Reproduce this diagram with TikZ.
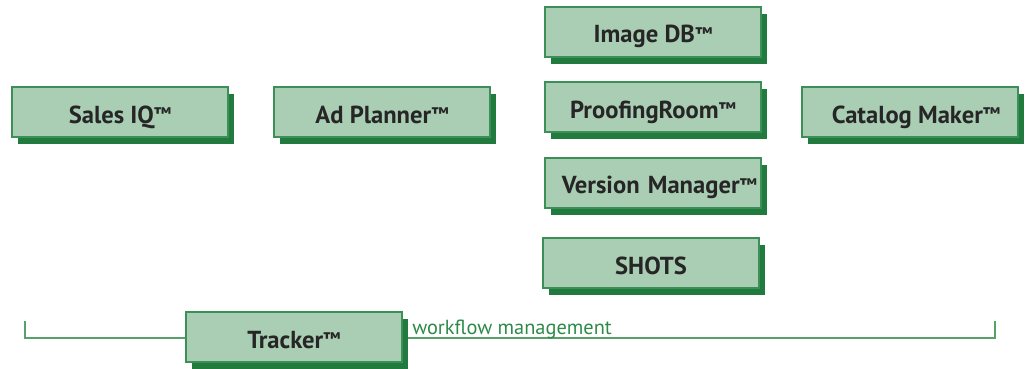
\documentclass[tikz,border=0pt]{standalone}
\usepackage{fontspec}
\setmainfont{PT Sans}
\usetikzlibrary{shadows,positioning}

\definecolor{boxfill}{HTML}{A9CEB3}
\definecolor{boxline}{HTML}{3D8F58}
\definecolor{boxshade}{HTML}{217A3E}
\definecolor{wfgreen}{HTML}{2E8A48}

\newcommand{\tmark}{\raisebox{0.22ex}{\fontsize{13}{13}\selectfont ™}}

\tikzset{
    product/.style={draw=boxline, line width=0.8pt, fill=boxfill,
        minimum width=5.4cm, minimum height=1.25cm, inner sep=0pt,
        text height=0.6cm, text depth=0.05cm,
        font=\fontsize{17.5}{19}\selectfont\bfseries, text=black!85,
        drop shadow={shadow xshift=0.15cm, shadow yshift=-0.175cm, fill=boxshade, opacity=1}},
    wfline/.style={draw=wfgreen!80, line width=0.8pt}
}

\begin{document}
\begin{tikzpicture}
    \useasboundingbox (0,0) rectangle (25.675,9.2);

    % Bracket along the bottom
    \coordinate (wfTL) at (0.625,1.175);
    \coordinate (wfTR) at (24.875,1.175);
    \draw [wfline] (wfTL) |- (wfTR |- 0,0.75) -- (wfTR);

    % Top row
    \node [product] (salesiq) at (3.0,6.4) {Sales IQ\tmark};
    \node [product] (adplanner) at (9.55,6.4) {Ad Planner\tmark};
    \node [product] (catalog) at (22.75,6.4) {\hspace*{0.3cm}Catalog Maker\tmark};

    % Middle stack
    \node [product] (imagedb) at (16.325,8.4) {Image DB\tmark};
    \node [product] (proofing) at (16.325,6.525) {ProofingRoom\tmark};
    \node [product, text width=5.4cm, align=right] (version) at (16.325,4.625) {Version Manager\tmark\hspace*{0.1cm}};
    \node [product] (shots) at (16.275,2.625) {SHOTS};

    % Workflow
    \node [product] (tracker) at (7.35,0.775) {Tracker\tmark};
    \node [anchor=base west, inner sep=0pt, text=wfgreen, font=\fontsize{14.5}{16}\selectfont]
        (workflow) at (10.3,0.83) {workflow management};

\end{tikzpicture}
\end{document}
